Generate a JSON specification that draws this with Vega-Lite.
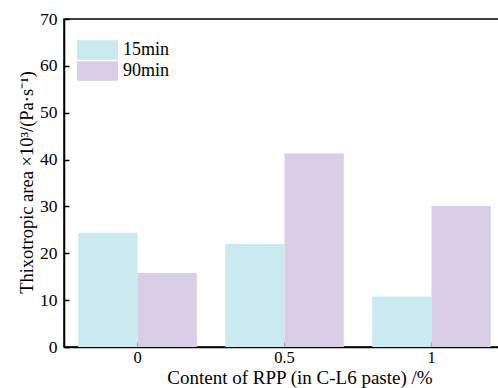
{
  "$schema": "https://vega.github.io/schema/vega-lite/v6.json",
  "autosize": "none",
  "width": 441,
  "height": 328,
  "padding": {"left": 64, "top": 19, "right": 0, "bottom": 41},
  "background": "white",
  "config": {
    "font": "Liberation Serif",
    "view": {"stroke": "black", "strokeWidth": 1.5},
    "axis": {"labelFont": "Liberation Serif", "titleFont": "Liberation Serif", "labelColor": "black", "titleColor": "black", "titleFontWeight": "normal", "domainColor": "black", "tickColor": "black", "domainWidth": 1.5, "tickWidth": 1.5, "grid": false},
    "legend": {"labelFont": "Liberation Serif"}
  },
  "data": {"values": [
    {"content": "0", "time": "15min", "area": 24.4},
    {"content": "0", "time": "90min", "area": 15.8},
    {"content": "0.5", "time": "15min", "area": 22.0},
    {"content": "0.5", "time": "90min", "area": 41.3},
    {"content": "1", "time": "15min", "area": 10.8},
    {"content": "1", "time": "90min", "area": 30.1}
  ]},
  "mark": {"type": "bar"},
  "encoding": {
    "x": {"field": "content", "type": "nominal", "sort": ["0", "0.5", "1"],
      "scale": {"paddingInner": 0, "paddingOuter": 0},
      "axis": {"title": "Content of RPP (in C-L6 paste) /%", "labelAngle": 0, "labelFontSize": 16.5, "titleFontSize": 19, "tickSize": -5, "labelPadding": 7, "titleX": 235.5, "titleY": 36, "titleBaseline": "alphabetic", "titleAnchor": "middle", "titleAlign": "center"}},
    "xOffset": {"field": "time", "type": "nominal", "scale": {"paddingOuter": 0.24, "paddingInner": 0}},
    "y": {"field": "area", "type": "quantitative",
      "scale": {"domain": [0, 70], "nice": false},
      "axis": {"title": "Thixotropic area ×10³/(Pa·s⁻¹)", "values": [0, 10, 20, 30, 40, 50, 60, 70], "labelFontSize": 17.5, "titleFontSize": 18.5, "tickSize": -5, "labelPadding": 12, "titleX": -38, "titleY": 163, "titleBaseline": "middle", "titleAlign": "center", "titleAnchor": "middle", "titleAngle": -90}},
    "color": {"field": "time", "type": "nominal",
      "scale": {"domain": ["15min", "90min"], "range": ["#c9eaee", "#dacde6"]},
      "legend": {"title": null, "orient": "none", "legendX": 23.5, "legendY": 21, "padding": 0,
        "symbolType": "M-2.05,-0.97H2.05V0.97H-2.05Z", "symbolSize": 400, "symbolStrokeWidth": 0, "symbolOpacity": 1,
        "labelFontSize": 18, "labelColor": "black", "labelOffset": 15.5, "rowPadding": 1}}
  }
}
